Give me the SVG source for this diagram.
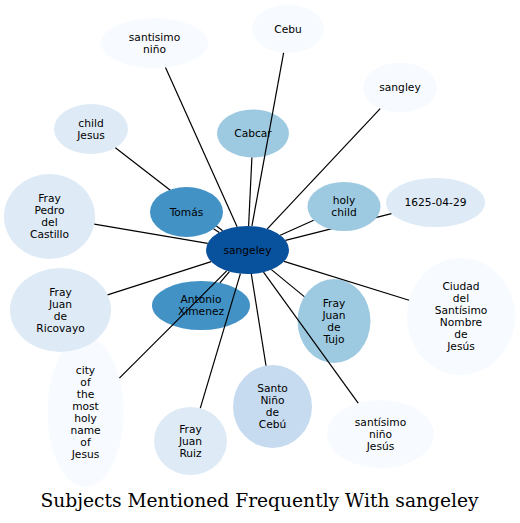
<svg xmlns="http://www.w3.org/2000/svg" width="520" height="523" viewBox="0 0 520 523">
<style>
  .n text { font-family: "DejaVu Sans", sans-serif; font-size: 10.67px; fill: #000; text-anchor: middle; }
  .c0 { fill: #f7fbff; }
  .c1 { fill: #deebf7; }
  .c2 { fill: #c6dbef; }
  .c3 { fill: #9ecae1; }
  .c4 { fill: #4292c6; }
  .c5 { fill: #08519c; }
  #connectors line { stroke: #000; stroke-width: 1.2; }
  .title { font-family: "DejaVu Serif", serif; font-size: 18.67px; fill: #000; text-anchor: middle; }
</style>
<rect width="520" height="523" fill="#fff"/>

<g id="node-santisimo-nino" class="n">
  <ellipse class="c0" cx="154.5" cy="43" rx="53.5" ry="25"/>
  <text x="154.5" y="40.5"><tspan x="154.5">santisimo</tspan><tspan x="154.5" dy="12">niño</tspan></text>
</g>
<g id="node-cebu" class="n">
  <ellipse class="c0" cx="288" cy="29" rx="36" ry="24"/>
  <text x="288" y="32.5">Cebu</text>
</g>
<g id="node-sangley" class="n">
  <ellipse class="c0" cx="400" cy="87.5" rx="37" ry="25"/>
  <text x="400" y="91">sangley</text>
</g>
<g id="node-child-jesus" class="n">
  <ellipse class="c1" cx="91" cy="129" rx="37" ry="25"/>
  <text x="91" y="126.5"><tspan x="91">child</tspan><tspan x="91" dy="12">Jesus</tspan></text>
</g>
<g id="node-cabcar" class="n">
  <ellipse class="c3" cx="253" cy="133.5" rx="36" ry="24"/>
  <text x="253" y="137">Cabcar</text>
</g>
<g id="node-fray-pedro" class="n">
  <ellipse class="c1" cx="49.5" cy="216.5" rx="45.5" ry="42.5"/>
  <text x="49.5" y="202"><tspan x="49.5">Fray</tspan><tspan x="49.5" dy="12">Pedro</tspan><tspan x="49.5" dy="12">del</tspan><tspan x="49.5" dy="12">Castillo</tspan></text>
</g>
<g id="node-sangeley" class="n">
  <ellipse class="c5" cx="247.5" cy="250" rx="41.5" ry="24"/>
  <text x="247.5" y="253.5">sangeley</text>
</g>
<g id="node-1625" class="n">
  <ellipse class="c1" cx="435.5" cy="202.5" rx="49.5" ry="24.5"/>
  <text x="435.5" y="206">1625-04-29</text>
</g>
<g id="node-city" class="n">
  <ellipse class="c0" cx="85.5" cy="412" rx="38" ry="75"/>
  <text x="85.5" y="373.5"><tspan x="85.5">city</tspan><tspan x="85.5" dy="12">of</tspan><tspan x="85.5" dy="12">the</tspan><tspan x="85.5" dy="12">most</tspan><tspan x="85.5" dy="12">holy</tspan><tspan x="85.5" dy="12">name</tspan><tspan x="85.5" dy="12">of</tspan><tspan x="85.5" dy="12">Jesus</tspan></text>
</g>
<g id="node-fray-juan-ricovayo" class="n">
  <ellipse class="c1" cx="60.5" cy="310" rx="50.5" ry="42"/>
  <text x="60.5" y="295.5"><tspan x="60.5">Fray</tspan><tspan x="60.5" dy="12">Juan</tspan><tspan x="60.5" dy="12">de</tspan><tspan x="60.5" dy="12">Ricovayo</tspan></text>
</g>
<g id="node-antonio-ximenez" class="n">
  <ellipse class="c4" cx="201" cy="305.5" rx="49" ry="24.5"/>
  <text x="201" y="303"><tspan x="201">Antonio</tspan><tspan x="201" dy="12">Ximenez</tspan></text>
</g>
<g id="node-fray-juan-tujo" class="n">
  <ellipse class="c3" cx="334" cy="321" rx="36.5" ry="42"/>
  <text x="334" y="306.5"><tspan x="334">Fray</tspan><tspan x="334" dy="12">Juan</tspan><tspan x="334" dy="12">de</tspan><tspan x="334" dy="12">Tujo</tspan></text>
</g>
<g id="node-ciudad" class="n">
  <ellipse class="c0" cx="461" cy="316.5" rx="54" ry="58.5"/>
  <text x="461" y="290"><tspan x="461">Ciudad</tspan><tspan x="461" dy="12">del</tspan><tspan x="461" dy="12">Santísimo</tspan><tspan x="461" dy="12">Nombre</tspan><tspan x="461" dy="12">de</tspan><tspan x="461" dy="12">Jesús</tspan></text>
</g>
<g id="node-fray-juan-ruiz" class="n">
  <ellipse class="c1" cx="190.5" cy="441" rx="36.5" ry="34"/>
  <text x="190.5" y="432.5"><tspan x="190.5">Fray</tspan><tspan x="190.5" dy="12">Juan</tspan><tspan x="190.5" dy="12">Ruiz</tspan></text>
</g>
<g id="node-santo-nino" class="n">
  <ellipse class="c2" cx="272.5" cy="406.5" rx="39.5" ry="41.5"/>
  <text x="272.5" y="392"><tspan x="272.5">Santo</tspan><tspan x="272.5" dy="12">Niño</tspan><tspan x="272.5" dy="12">de</tspan><tspan x="272.5" dy="12">Cebú</tspan></text>
</g>
<g id="node-santisimo-nino-jesus" class="n">
  <ellipse class="c0" cx="380.5" cy="434" rx="53.5" ry="34"/>
  <text x="380.5" y="425.5"><tspan x="380.5">santísimo</tspan><tspan x="380.5" dy="12">niño</tspan><tspan x="380.5" dy="12">Jesús</tspan></text>
</g>

<g id="connectors">
  <line x1="237.1" y1="226.8" x2="165.5" y2="67.5"/>
  <line x1="251.9" y1="226.1" x2="283.6" y2="52.8"/>
  <line x1="267.3" y1="228.9" x2="380.2" y2="108.6"/>
  <line x1="222.6" y1="230.8" x2="115.4" y2="147.8"/>
  <line x1="248.6" y1="226" x2="251.9" y2="157.5"/>
  <line x1="219.3" y1="232.4" x2="213.5" y2="228.8"/>
  <line x1="207.7" y1="243.3" x2="94.3" y2="224.1"/>
  <line x1="211.2" y1="261.6" x2="107.6" y2="294.9"/>
  <line x1="229.4" y1="271.6" x2="219.9" y2="282.9"/>
  <line x1="280.2" y1="235.2" x2="313.7" y2="220.2"/>
  <line x1="285.5" y1="240.4" x2="391.4" y2="213.6"/>
  <line x1="271.4" y1="269.6" x2="304.3" y2="296.6"/>
  <line x1="284" y1="261.4" x2="409.1" y2="300.3"/>
  <line x1="226.7" y1="270.8" x2="119.4" y2="378.1"/>
  <line x1="240.4" y1="273.6" x2="200.3" y2="408.2"/>
  <line x1="251.3" y1="273.9" x2="266" y2="365.6"/>
  <line x1="263.5" y1="272.1" x2="358.2" y2="403.1"/>
</g>

<g id="node-tomas" class="n">
  <ellipse class="c4" cx="186.5" cy="212" rx="36.5" ry="25"/>
  <text x="186.5" y="215.5">Tomás</text>
</g>
<g id="node-holy-child" class="n">
  <ellipse class="c3" cx="344" cy="206.5" rx="36.5" ry="24.5"/>
  <text x="344" y="204"><tspan x="344">holy</tspan><tspan x="344" dy="12">child</tspan></text>
</g>

<text class="title" x="259.5" y="507">Subjects Mentioned Frequently With sangeley</text>
</svg>
